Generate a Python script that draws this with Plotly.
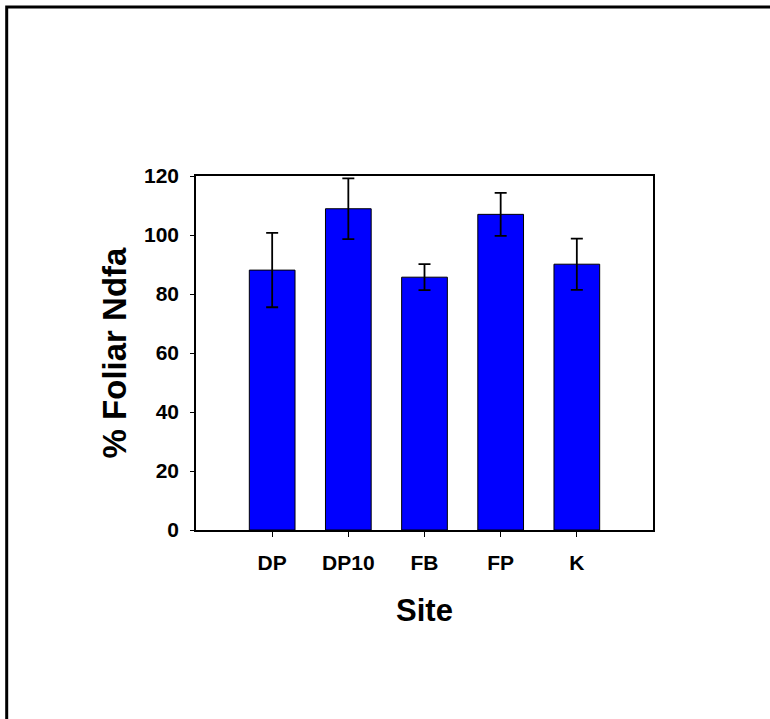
import plotly.graph_objects as go

sites = ["DP", "DP10", "FB", "FP", "K"]
ndfa = [88.1, 108.9, 85.7, 107.0, 90.1]
err = [12.6, 10.3, 4.4, 7.3, 8.7]
y_ticks = [0, 20, 40, 60, 80, 100, 120]

FONT = "Liberation Sans, Arial, sans-serif"

fig = go.Figure()
fig.add_trace(go.Bar(
    x=sites, y=ndfa, width=0.6,
    marker=dict(color="#0000FF", line=dict(color="#000000", width=1)),
    error_y=dict(type="data", array=err, visible=True, color="#000000",
                 thickness=1.8, width=6),
))

L, R, T, B = 196, 117, 176, 189
W, H = 770, 719
pw = W - L - R
ph = H - T - B
fx = (6.7 - L) / pw
fy = (H - B - 7) / ph

fig.update_layout(
    width=W, height=H,
    margin=dict(l=L, r=R, t=T, b=B),
    paper_bgcolor="white", plot_bgcolor="white",
    showlegend=False,
    bargap=0.4,
    font=dict(family=FONT, color="black"),
    xaxis=dict(
        range=[-1, 5], showline=True, linecolor="black", linewidth=1.5,
        mirror=True, ticks="outside", ticklen=5, tickwidth=1, tickcolor="black",
        tickfont=dict(size=21, family=FONT, weight="bold"),
        ticklabelstandoff=8,
        title=dict(text="<b>Site</b>", font=dict(size=31, family=FONT), standoff=26),
        showgrid=False, zeroline=False,
    ),
    yaxis=dict(
        range=[0, 120], tickvals=y_ticks, showline=True, linecolor="black",
        linewidth=1.5, mirror=True, ticks="outside", ticklen=4, tickwidth=1,
        tickcolor="black",
        tickfont=dict(size=21, family=FONT, weight="bold"),
        ticklabelstandoff=7,
        title=dict(text="<b>% Foliar Ndfa</b>", font=dict(size=33, family=FONT), standoff=7),
        showgrid=False, zeroline=False,
    ),
    shapes=[
        dict(type="rect", xref="paper", yref="paper", x0=fx, x1=2.0, y0=-1.0, y1=fy,
             line=dict(color="black", width=3), fillcolor="rgba(0,0,0,0)", layer="below"),
    ],
)

fig.write_html("out.html", config={"displayModeBar": False},
               post_script="document.body.style.margin='0px';document.body.style.overflow='hidden';")
